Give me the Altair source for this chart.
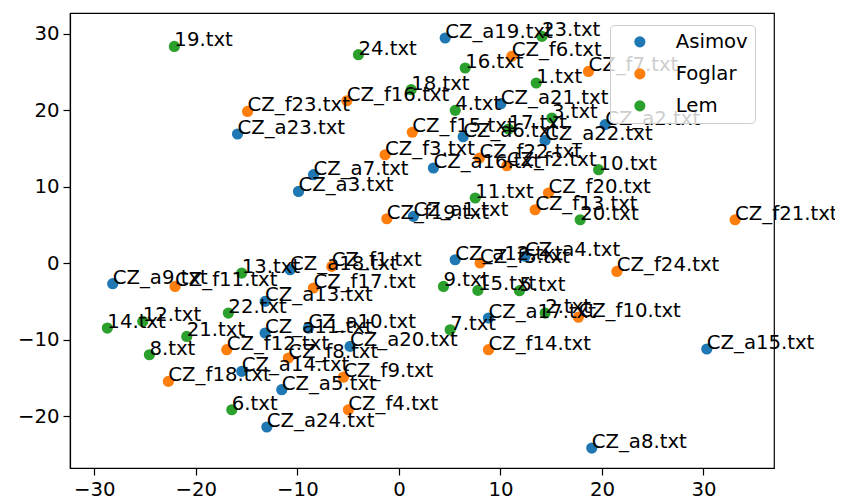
import altair as alt
import pandas as pd

authors = ["Asimov", "Foglar", "Lem"]
colors = ["#1f77b4", "#ff7f0e", "#2ca02c"]

asimov_labels = ["CZ_a19.txt", "CZ_a23.txt", "CZ_a7.txt", "CZ_a3.txt", "CZ_a21.txt", "CZ_a2.txt",
                 "CZ_a22.txt", "CZ_a6.txt", "CZ_a16.txt", "CZ_a1.txt", "CZ_a12.txt", "CZ_a4.txt",
                 "CZ_a9.txt", "CZ_a18.txt", "CZ_a13.txt", "CZ_a11.txt", "CZ_a10.txt", "CZ_a20.txt",
                 "CZ_a14.txt", "CZ_a5.txt", "CZ_a24.txt", "CZ_a17.txt", "CZ_a15.txt", "CZ_a8.txt"]
asimov_x = [4.56, -15.90, -8.41, -9.89, 10.04, 20.32,
            14.40, 6.33, 3.40, 1.43, 5.54, 12.43,
            -28.19, -10.72, -13.18, -13.18, -8.92, -4.81,
            -15.48, -11.54, -13.01, 8.82, 30.33, 19.00]
asimov_y = [29.47, 16.92, 11.60, 9.41, 20.88, 18.14,
            16.08, 16.57, 12.47, 6.15, 0.48, 0.92,
            -2.65, -0.82, -4.97, -9.10, -8.45, -10.85,
            -14.12, -16.51, -21.39, -7.14, -11.19, -24.14]

foglar_labels = ["CZ_f6.txt", "CZ_f7.txt", "CZ_f23.txt", "CZ_f16.txt", "CZ_f15.txt", "CZ_f3.txt",
                 "CZ_f22.txt", "CZ_f2.txt", "CZ_f20.txt", "CZ_f13.txt", "CZ_f21.txt", "CZ_f19.txt",
                 "CZ_f5.txt", "CZ_f24.txt", "CZ_f11.txt", "CZ_f1.txt", "CZ_f17.txt", "CZ_f10.txt",
                 "CZ_f14.txt", "CZ_f12.txt", "CZ_f8.txt", "CZ_f9.txt", "CZ_f4.txt", "CZ_f18.txt"]
foglar_x = [11.12, 18.67, -14.91, -5.13, 1.32, -1.36,
            7.93, 10.63, 14.73, 13.42, 33.12, -1.19,
            8.00, 21.47, -22.05, -6.61, -8.42, 17.68,
            8.82, -16.96, -10.89, -5.47, -4.98, -22.71]
foglar_y = [27.07, 25.10, 19.87, 21.27, 17.15, 14.21,
            13.78, 12.77, 9.21, 7.02, 5.71, 5.84,
            0.05, -1.05, -3.01, -0.39, -3.22, -7.03,
            -11.28, -11.28, -12.37, -14.88, -19.13, -15.43]

lem_labels = ["19.txt", "24.txt", "16.txt", "23.txt", "1.txt", "18.txt",
              "4.txt", "3.txt", "17.txt", "10.txt", "11.txt", "20.txt",
              "13.txt", "22.txt", "14.txt", "12.txt", "21.txt", "8.txt",
              "6.txt", "9.txt", "15.txt", "5.txt", "7.txt", "2.txt"]
lem_x = [-22.12, -3.99, 6.53, 14.09, 13.53, 1.21,
         5.55, 15.07, 10.80, 19.67, 7.52, 17.86,
         -15.48, -16.80, -28.72, -25.23, -20.90, -24.58,
         -16.46, 4.39, 7.78, 11.88, 5.05, 14.41]
lem_y = [28.37, 27.29, 25.55, 29.68, 23.59, 22.71,
         20.01, 19.01, 17.57, 12.25, 8.55, 5.71,
         -1.26, -6.49, -8.45, -7.58, -9.55, -11.94,
         -19.13, -3.01, -3.53, -3.57, -8.67, -6.49]

x_ticks = [-30, -20, -10, 0, 10, 20, 30]
y_ticks = [-20, -10, 0, 10, 20, 30]

rows = []
for author, labels, xs, ys in [("Asimov", asimov_labels, asimov_x, asimov_y),
                               ("Foglar", foglar_labels, foglar_x, foglar_y),
                               ("Lem", lem_labels, lem_x, lem_y)]:
    for lab, xv, yv in zip(labels, xs, ys):
        rows.append({"author": author, "label": lab, "x": xv, "y": yv})
df = pd.DataFrame(rows)
df["order"] = range(len(df))

FONT = "DejaVu Sans"
FS = 19.7

xscale = alt.Scale(domain=[-32.4, 36.95], nice=False, zero=False)
yscale = alt.Scale(domain=[-26.75, 32.74], nice=False, zero=False)

xenc = alt.X("x:Q", scale=xscale, axis=alt.Axis(values=x_ticks, title=None, grid=False, format="d"))
yenc = alt.Y("y:Q", scale=yscale, axis=alt.Axis(values=y_ticks, title=None, grid=False, format="d"))

points = alt.Chart(df).mark_circle(size=125, opacity=1).encode(
    x=xenc,
    y=yenc,
    color=alt.Color(
        "author:N",
        scale=alt.Scale(domain=authors, range=colors),
        legend=alt.Legend(
            title=None,
            orient="none",
            legendX=540,
            legendY=12,
            fillColor="rgba(255,255,255,0.8)",
            strokeColor="#cccccc",
            cornerRadius=4,
            padding=7,
            rowPadding=11,
            symbolType="circle",
            symbolSize=125,
            symbolStrokeWidth=0,
            symbolOpacity=1,
            symbolOffset=13,
            labelOffset=26,
            labelFont=FONT,
            labelFontSize=FS,
            labelColor="black",
        ),
    ),
    order=alt.Order("order:Q"),
)

text = alt.Chart(df).mark_text(
    align="left", baseline="alphabetic", font=FONT, fontSize=FS, color="black"
).encode(x=xenc, y=yenc, text="label:N", order=alt.Order("order:Q"))

chart = (
    alt.layer(points, text)
    .properties(
        width=704,
        height=455,
        padding={"left": 62, "top": 5, "right": 61, "bottom": 32},
        autosize=alt.AutoSizeParams(type="none"),
    )
    .configure_view(stroke="black", strokeWidth=1.2)
    .configure_axis(
        domainColor="black",
        domainWidth=1.2,
        tickColor="black",
        tickWidth=1.2,
        tickSize=7,
        labelFont=FONT,
        labelFontSize=FS,
        labelColor="black",
        labelPadding=4,
    )
)

chart.save("out.html", embed_options={"renderer": "svg", "actions": False})
